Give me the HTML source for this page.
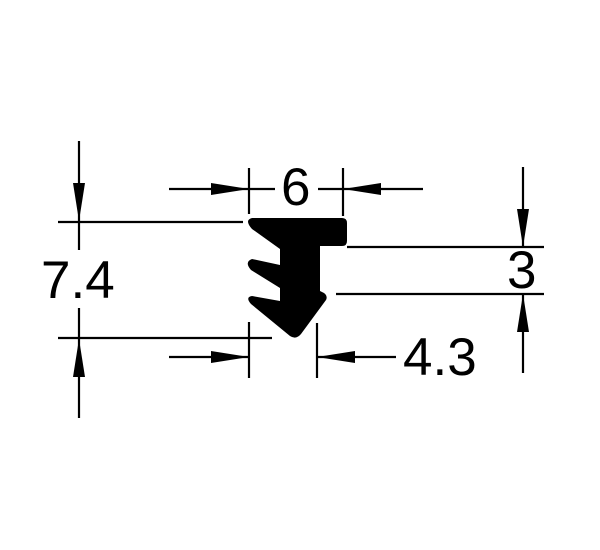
<!DOCTYPE html>
<html><head><style>html,body{margin:0;padding:0;background:#fff;}svg{display:block}</style></head>
<body>
<svg width="600" height="550" viewBox="0 0 600 550" xmlns="http://www.w3.org/2000/svg">
<g stroke="#000" stroke-width="2.2" fill="none">
<line x1="79" y1="141" x2="79" y2="250"/>
<line x1="58" y1="222" x2="243" y2="222"/>
<line x1="79" y1="308" x2="79" y2="418"/>
<line x1="58" y1="338" x2="272" y2="338"/>
<line x1="249" y1="168" x2="249" y2="214"/>
<line x1="343" y1="168" x2="343" y2="216"/>
<line x1="169" y1="189" x2="275" y2="189"/>
<line x1="318" y1="189" x2="423" y2="189"/>
<line x1="347" y1="247" x2="544" y2="247"/>
<line x1="336" y1="294" x2="544" y2="294"/>
<line x1="523" y1="167" x2="523" y2="247"/>
<line x1="523" y1="294" x2="523" y2="373"/>
<line x1="249" y1="322" x2="249" y2="378"/>
<line x1="317" y1="323" x2="317" y2="378"/>
<line x1="169" y1="357" x2="249" y2="357"/>
<line x1="317" y1="357" x2="396" y2="357"/>
</g>
<g fill="#000">
<polygon points="79,221 73,183 85,183"/>
<polygon points="79,339 73,377 85,377"/>
<polygon points="249,189 211,183 211,195"/>
<polygon points="343,189 381,183 381,195"/>
<polygon points="523,247 517,209 529,209"/>
<polygon points="523,294 517,332 529,332"/>
<polygon points="249,357 211,351 211,363"/>
<polygon points="317,357 355,351 355,363"/>
<path d="M252,218 L342,218 Q347,218 347,223 L347,241 Q347,246 342,246 L320,246 L320,291 L324,293 Q328,296 326,300 L301,334 Q296,340 290,336 L251,304 Q245,297 252,296 L280,301 L280,288 L251,270 Q244,262 252,259 L280,265 L280,249 L252,229 Q244,220 252,218 Z"/>
</g>
<g font-family="Liberation Sans, sans-serif" fill="#000" font-size="53">
<text x="41" y="298">7.4</text>
<text x="281" y="205">6</text>
<text x="507" y="288">3</text>
<text x="403" y="375">4.3</text>
</g>
</svg>
</body></html>
